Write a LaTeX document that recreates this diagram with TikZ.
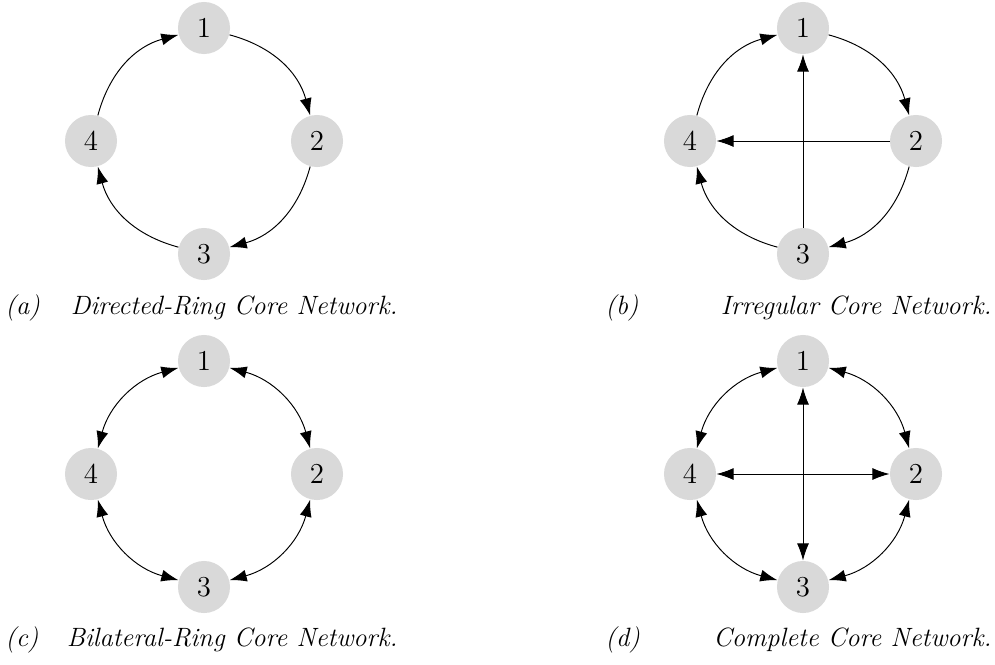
\documentclass[tikz,border=0pt]{standalone}
\usetikzlibrary{arrows.meta}
\tikzset{
  core/.style={circle, fill=gray!30, minimum size=0.76cm, inner sep=0pt, font=\large},
  sublabel/.style={anchor=base west, inner sep=0pt, font=\fontsize{11}{13}\selectfont\itshape},
  subtext/.style={anchor=base east, inner sep=0pt, font=\fontsize{11}{13}\selectfont\itshape},
}
\begin{document}
\begin{tikzpicture}[x=0.0146cm, y=-0.0146cm, >={Latex[length=2.5mm,width=1.75mm]}]
    \useasboundingbox (0,0) rectangle (995,664);
    \def\r{113}
    \def\la{204}
    \def\lb{803}
    \def\ya{141}
    \def\yb{474}
    % (a) directed ring
    \node[core] (a1) at (\la, \ya-\r) {1};
    \node[core] (a2) at (\la+\r, \ya) {2};
    \node[core] (a3) at (\la, \ya+\r) {3};
    \node[core] (a4) at (\la-\r, \ya) {4};
    \path (a1) edge [->, bend left=30] (a2);
    \path (a2) edge [->, bend left=30] (a3);
    \path (a3) edge [->, bend left=30] (a4);
    \path (a4) edge [->, bend left=30] (a1);
    % (b) irregular
    \node[core] (b1) at (\lb, \ya-\r) {1};
    \node[core] (b2) at (\lb+\r, \ya) {2};
    \node[core] (b3) at (\lb, \ya+\r) {3};
    \node[core] (b4) at (\lb-\r, \ya) {4};
    \path (b1) edge [->, bend left=30] (b2);
    \path (b2) edge [->, bend left=30] (b3);
    \path (b3) edge [->, bend left=30] (b4);
    \path (b4) edge [->, bend left=30] (b1);
    \path (b2) edge [->] (b4);
    \path (b3) edge [->] (b1);
    % (c) bilateral ring
    \node[core] (c1) at (\la, \yb-\r) {1};
    \node[core] (c2) at (\la+\r, \yb) {2};
    \node[core] (c3) at (\la, \yb+\r) {3};
    \node[core] (c4) at (\la-\r, \yb) {4};
    \path (c1) edge [<->, bend left=30] (c2);
    \path (c2) edge [<->, bend left=30] (c3);
    \path (c3) edge [<->, bend left=30] (c4);
    \path (c4) edge [<->, bend left=30] (c1);
    % (d) complete
    \node[core] (d1) at (\lb, \yb-\r) {1};
    \node[core] (d2) at (\lb+\r, \yb) {2};
    \node[core] (d3) at (\lb, \yb+\r) {3};
    \node[core] (d4) at (\lb-\r, \yb) {4};
    \path (d1) edge [<->, bend left=30] (d2);
    \path (d2) edge [<->, bend left=30] (d3);
    \path (d3) edge [<->, bend left=30] (d4);
    \path (d4) edge [<->, bend left=30] (d1);
    \path (d2) edge [<->] (d4);
    \path (d3) edge [<->] (d1);
    % captions
    \node[sublabel] (capa) at (5, 314) {(a)};
    \node[subtext] (texta) at (398, 314) {Directed-Ring Core Network.};
    \node[sublabel] (capb) at (605, 314) {(b)};
    \node[subtext] (textb) at (992, 314) {Irregular Core Network.};
    \node[sublabel] (capc) at (5, 646) {(c)};
    \node[subtext] (textc) at (398, 646) {Bilateral-Ring Core Network.};
    \node[sublabel] (capd) at (605, 646) {(d)};
    \node[subtext] (textd) at (992, 646) {Complete Core Network.};
\end{tikzpicture}
\end{document}
